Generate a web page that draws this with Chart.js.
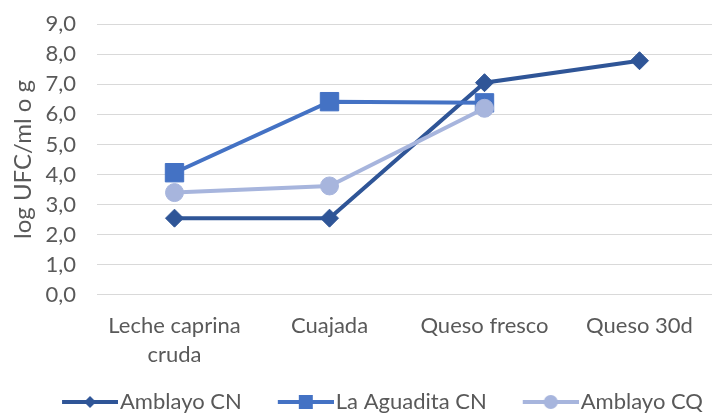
<!DOCTYPE html>
<html>
<head>
<meta charset="utf-8">
<script src="https://cdn.jsdelivr.net/npm/chart.js@4.4.1/dist/chart.umd.min.js"></script>
<style>
  html, body { margin: 0; padding: 0; background: #ffffff; overflow: hidden; width: 712px; height: 413px; }
  canvas { display: block; }
</style>
</head>
<body>
<canvas id="chart" width="717" height="413" style="width:717px;height:413px"></canvas>
<script>
// Stages of the process (x axis)
const categories = [["Leche caprina", "cruda"], "Cuajada", "Queso fresco", "Queso 30d"];

// log UFC/ml o g per series
const amblayoCN = [2.55, 2.55, 7.05, 7.78];
const laAguaditaCN = [4.06, 6.42, 6.38, null];
const amblayoCQ = [3.40, 3.62, 6.20, null];

const seriesNames = ["Amblayo CN", "La Aguadita CN", "Amblayo CQ"];

// y axis range and step
const yMin = 0;
const yMax = 9;
const yStep = 1;

const TEXT = "#595959";
const FONT = "Lato, 'Open Sans', sans-serif";
const FONT_SIZE = 22;
const colors = ["#2F5597", "#4472C4", "#A7B5DD"];
const markers = ["rectRot", "rect", "circle"];

// Legend swatch: transparent lead-in, then a short line with the series marker
const SWATCH_BOX = 77;
function legendSwatch(color, marker) {
  const c = document.createElement("canvas");
  c.width = SWATCH_BOX + 18; c.height = 20;
  const g = c.getContext("2d");
  const x0 = c.width - 56, cx = x0 + 28;
  g.strokeStyle = color;
  g.fillStyle = color;
  g.lineWidth = 4;
  g.beginPath();
  g.moveTo(x0, 10); g.lineTo(c.width, 10);
  g.stroke();
  g.beginPath();
  if (marker === "rectRot") {
    g.moveTo(cx, 4); g.lineTo(cx + 6, 10); g.lineTo(cx, 16); g.lineTo(cx - 6, 10); g.closePath();
  } else if (marker === "rect") {
    g.rect(cx - 7, 3, 14, 14);
  } else {
    g.arc(cx, 10, 7, 0, Math.PI * 2);
  }
  g.fill();
  return c;
}
const swatches = colors.map((c, i) => legendSwatch(c, markers[i]));

// Legend placement along the bottom edge
const legendPlacement = {
  id: "legendPlacement",
  afterLayout(chart) {
    const lg = chart.legend;
    if (!lg) return;
    const dx = 9;
    const h = lg.bottom - lg.top;
    lg.left += dx; lg.right += dx;
    lg.top = 402 - lg.options.labels.padding - FONT_SIZE / 2;
    lg.bottom = lg.top + h;
  }
};

const makeDataset = (label, data, i, radius, order) => ({
  label,
  data,
  borderColor: colors[i],
  backgroundColor: colors[i],
  borderWidth: 4,
  tension: 0,
  pointStyle: markers[i],
  pointRadius: radius,
  pointHoverRadius: radius,
  pointBorderWidth: 1,
  pointBorderColor: colors[i],
  pointBackgroundColor: colors[i],
  order
});

new Chart(document.getElementById("chart"), {
  type: "line",
  data: {
    labels: categories,
    datasets: [
      makeDataset(seriesNames[0], amblayoCN, 0, 9, 3),
      makeDataset(seriesNames[1], laAguaditaCN, 1, 13, 2),
      makeDataset(seriesNames[2], amblayoCQ, 2, 9, 1)
    ]
  },
  options: {
    responsive: false,
    animation: false,
    devicePixelRatio: 1,
    layout: { autoPadding: false, padding: { top: 24, right: 0, bottom: -10, left: 0 } },
    plugins: {
      tooltip: { enabled: false },
      legend: {
        position: "bottom",
        labels: {
          usePointStyle: true,
          pointStyleWidth: SWATCH_BOX,
          boxHeight: FONT_SIZE,
          padding: 6,
          color: TEXT,
          font: { family: FONT, size: FONT_SIZE },
          generateLabels(chart) {
            return chart.data.datasets.map((ds, i) => ({
              text: ds.label,
              pointStyle: swatches[i],
              fillStyle: ds.borderColor,
              strokeStyle: ds.borderColor,
              lineWidth: 0,
              fontColor: TEXT,
              hidden: false,
              datasetIndex: i
            }));
          }
        }
      }
    },
    scales: {
      x: {
        type: "category",
        offset: true,
        grid: { display: false, drawTicks: false },
        border: { display: false },
        ticks: {
          color: TEXT,
          padding: 16,
          maxRotation: 0,
          autoSkip: false,
          font: { family: FONT, size: FONT_SIZE, lineHeight: 1.32 }
        }
      },
      y: {
        min: yMin,
        max: yMax,
        grid: {
          color: "#D9D9D9",
          lineWidth: 1,
          drawTicks: true,
          tickLength: 21,
          tickColor: "rgba(0,0,0,0)"
        },
        border: { display: false },
        ticks: {
          stepSize: yStep,
          autoSkip: false,
          color: TEXT,
          padding: 0,
          font: { family: FONT, size: FONT_SIZE },
          callback: (v) => Number(v).toFixed(1).replace(".", ",")
        },
        title: {
          display: true,
          text: "log UFC/ml o g",
          color: TEXT,
          font: { family: FONT, size: 24 },
          padding: { top: 9, bottom: 0 }
        },
        afterFit(scale) { scale.width = 97; }
      }
    }
  },
  plugins: [legendPlacement]
});
</script>
</body>
</html>
